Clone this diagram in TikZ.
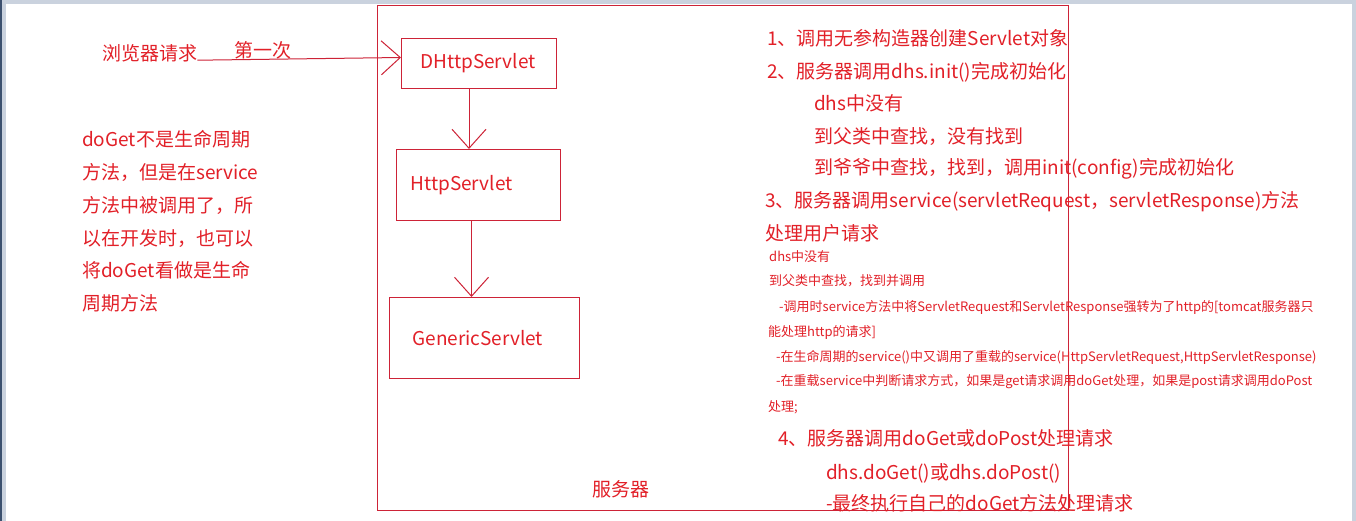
\documentclass[tikz,border=0pt]{standalone}
\usepackage{fontspec}
\setmainfont{Noto Sans CJK SC}
\usepackage{tikz}
\usetikzlibrary{arrows.meta}
\definecolor{penred}{RGB}{226,32,40}
\definecolor{boxred}{RGB}{205,35,55}
\definecolor{chrome}{RGB}{202,210,222}
\definecolor{chromedark}{RGB}{60,80,110}

\begin{document}
\begin{tikzpicture}[x=1pt, y=-1pt,
  every node/.style={text=penred, inner sep=0pt},
  big/.style={anchor=west, font=\fontsize{19}{19}\selectfont},
  small/.style={anchor=west, font=\fontsize{13}{13}\selectfont},
  class node/.style={draw=boxred, line width=1pt, anchor=north west, align=left,
    font=\fontsize{19}{19}\selectfont},
  flow/.style={draw=boxred, line width=1pt, -{Straight Barb[length=19pt,width=34pt]}}]

\useasboundingbox (0,0) rectangle (1356,521);
\fill[white] (0,0) rectangle (1356,521);
\fill[chrome] (0,0) rectangle (1356,4);
\fill[chrome] (0,0) rectangle (6,521);
\fill[chromedark] (0,0) rectangle (2,521);
\fill[chrome] (1352,4) rectangle (1356,521);

% server
\node[draw=boxred, line width=1pt, anchor=north west, minimum width=691pt,
  minimum height=505pt] (server) at (377,5) {};
\node[big] (srvlabel) at (592,489) {服务器};

% classes
\node[class node, text width=117pt, inner xsep=19pt, minimum height=50pt] (dh) at (401,38) {DHttpServlet};
\node[class node, text width=136pt, inner xsep=14pt, minimum height=71pt] (hs) at (396,149) {HttpServlet};
\node[class node, text width=144pt, inner xsep=23pt, minimum height=81pt] (gs) at (389,297) {GenericServlet};

\node[big] (req) at (102,53) {浏览器请求};
\draw[flow] (req.base east) -- node[above, pos=0.32, font=\fontsize{19}{19}\selectfont] (first) {第一次} ([yshift=6pt]dh.west);
\draw[flow] ([xshift=-10pt]dh.south) -- ([xshift=-10pt]dh.south |- hs.north);
\draw[flow] ([xshift=-7pt]hs.south) -- ([xshift=-7pt]hs.south |- gs.north);

% note on the left
\node[big] (note1) at (82,139) {doGet不是生命周期};
\node[big] (note2) at (82,172) {方法，但是在service};
\node[big] (note3) at (82,205) {方法中被调用了，所};
\node[big] (note4) at (82,238) {以在开发时，也可以};
\node[big] (note5) at (82,270) {将doGet看做是生命};
\node[big] (note6) at (82,303) {周期方法};

% steps
\node[big] (s1) at (767,38) {1、调用无参构造器创建Servlet对象};
\node[big] (s2) at (767,72) {2、服务器调用dhs.init()完成初始化};
\node[big] (s2a) at (814,103) {dhs中没有};
\node[big] (s2b) at (814,137) {到父类中查找，没有找到};
\node[big] (s2c) at (814,169) {到爷爷中查找，找到，调用init(config)完成初始化};
\node[big] (s3) at (765,202) {3、服务器调用service(servletRequest，servletResponse)方法};
\node[big] (s3x) at (765,233) {处理用户请求};
\node[small] (s3a) at (769,257) {dhs中没有};
\node[small] (s3b) at (769,281) {到父类中查找，找到并调用};
\node[small] (s3c) at (779,307) {-调用时service方法中将ServletRequest和ServletResponse强转为了http的[tomcat服务器只};
\node[small] (s3d) at (768,333) {能处理http的请求]};
\node[small] (s3e) at (776,357) {-在生命周期的service()中又调用了重载的service(HttpServletRequest,HttpServletResponse)};
\node[small] (s3f) at (776,382) {-在重载service中判断请求方式，如果是get请求调用doGet处理，如果是post请求调用doPost};
\node[small] (s3g) at (768,407) {处理;};
\node[big] (s4) at (778,438) {4、服务器调用doGet或doPost处理请求};
\node[big] (s4a) at (826,473) {dhs.doGet()或dhs.doPost()};
\node[big] (s4b) at (826,503) {-最终执行自己的doGet方法处理请求};

\end{tikzpicture}
\end{document}
